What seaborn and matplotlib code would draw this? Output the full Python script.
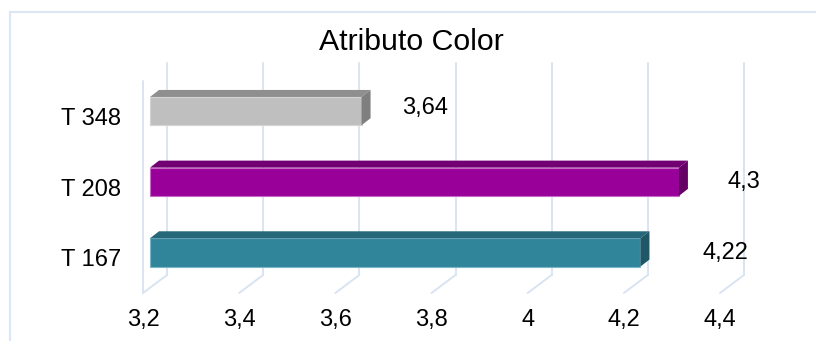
import numpy as np
import pandas as pd
import matplotlib
matplotlib.use('Agg')
import matplotlib.pyplot as plt
import seaborn as sns
from matplotlib.transforms import ScaledTranslation, IdentityTransform
from matplotlib.patches import Polygon, Rectangle
from matplotlib.lines import Line2D

# ---- data ----
categories = ['T 348', 'T 208', 'T 167']
values = [3.64, 4.3, 4.22]
value_labels = ['3,64', '4,3', '4,22']
tick_values = [3.2, 3.4, 3.6, 3.8, 4.0, 4.2, 4.4]
tick_labels = ['3,2', '3,4', '3,6', '3,8', '4', '4,2', '4,4']
title = 'Atributo Color'

# ---- style ----
front_colors = ['#BFBFBF', '#990099', '#31859B']
top_colors = ['#8F8F8F', '#730073', '#26687A']
side_colors = ['#7F7F7F', '#650065', '#1F5766']
edge_colors = ['#D4D4D4', '#C56AC5', '#7DB5C6']
grid_color = '#D9E4F3'
label_nudge_px = [71, 72, 92]
label_rise_px = [8, 5, 5]

sns.set_theme(style='white')
plt.rcParams['font.family'] = ['Liberation Sans', 'DejaVu Sans']

W, H = 816, 341
DPI = 100
fig = plt.figure(figsize=(W / DPI, H / DPI), dpi=DPI)
fig.patch.set_facecolor('white')

# front plane of the pseudo-3D box, in image pixels
L, R, T, B = 143, 720, 81, 293
ax = fig.add_axes([L / W, (H - B) / H, (R - L) / W, (B - T) / H])
ax.patch.set_visible(False)

df = pd.DataFrame({'cat': categories, 'val': values})
sns.barplot(data=df, x='val', y='cat', hue='cat', palette=front_colors,
            orient='h', width=0.4, saturation=1, legend=False, ax=ax)

ax.set_xlim(tick_values[0], tick_values[-1])
ax.set_ylim(len(categories) - 0.5, -0.5)
ax.set_xticks(tick_values)
ax.set_xticklabels(tick_labels)
ax.tick_params(axis='x', length=0, pad=11.5, labelsize=17, colors='black')
ax.tick_params(axis='y', length=0, pad=16, labelsize=17, colors='black')
ax.set_xlabel('')
ax.set_ylabel('')
for s in ax.spines.values():
    s.set_visible(False)

fig.canvas.draw()
ident = IdentityTransform()

# depth offsets (pixels, display coords y-up)
BOX_DX, BOX_DY = 24, 18
BAR_OFF_X, BAR_OFF_Y = 7, 5.25
BAR_DX, BAR_DY = 9, 7

# gridlines on back wall + floor diagonals + left wall edge
for i, v in enumerate(tick_values):
    xf, yb = ax.transData.transform((v, len(categories) - 0.5))
    _, yt = ax.transData.transform((v, -0.5))
    ax.add_line(Line2D([xf + BOX_DX, xf + BOX_DX], [yb + BOX_DY, yt + BOX_DY],
                       transform=ident, color=grid_color, lw=1.4, zorder=0.5, clip_on=False))
    ax.add_line(Line2D([xf, xf + BOX_DX], [yb, yb + BOX_DY],
                       transform=ident, color=grid_color, lw=1.4, zorder=0.5, clip_on=False))
    if i == 0:
        ax.add_line(Line2D([xf, xf], [yb, yt], transform=ident, color=grid_color,
                           lw=1.4, zorder=0.5, clip_on=False))

# bars: start at axis minimum, shift into the box, add top and side faces
shift = ScaledTranslation(BAR_OFF_X / DPI, BAR_OFF_Y / DPI, fig.dpi_scale_trans)
for i, (p, v) in enumerate(zip(ax.patches, values)):
    p.set_x(tick_values[0])
    p.set_width(v - tick_values[0])
    p.set_transform(ax.transData + shift)
    p.set_clip_on(False)
    p.set_edgecolor(edge_colors[i])
    p.set_linewidth(0.8)
    p.set_zorder(2)
    y0 = p.get_y()
    y1 = y0 + p.get_height()
    (x0d, ya), = ax.transData.transform([(tick_values[0], y0)])
    (x1d, yb_), = ax.transData.transform([(v, y1)])
    x0d += BAR_OFF_X; x1d += BAR_OFF_X
    ya += BAR_OFF_Y; yb_ += BAR_OFF_Y
    ytop, ybot = max(ya, yb_), min(ya, yb_)
    top = Polygon([(x0d, ytop), (x1d, ytop), (x1d + BAR_DX, ytop + BAR_DY), (x0d + BAR_DX, ytop + BAR_DY)],
                  closed=True, transform=ident, facecolor=top_colors[i], edgecolor='none',
                  zorder=2, clip_on=False)
    side = Polygon([(x1d, ytop), (x1d + BAR_DX, ytop + BAR_DY), (x1d + BAR_DX, ybot + BAR_DY), (x1d, ybot)],
                   closed=True, transform=ident, facecolor=side_colors[i], edgecolor='none',
                   zorder=2, clip_on=False)
    ax.add_patch(top)
    ax.add_patch(side)
    ax.annotate(value_labels[i], xy=(v, i), xytext=(label_nudge_px[i] * 0.72, label_rise_px[i] * 0.72),
                textcoords='offset points', ha='center', va='center', fontsize=17,
                color='black', annotation_clip=False)

fig.text(411.5 / W, 1 - 41.5 / H, title, ha='center', va='center', fontsize=21.8, color='black')

# chart border (partially visible)
fig.add_artist(Rectangle((10 / W, -0.2), 1.2, 1 - 12 / H + 0.2, transform=fig.transFigure,
                         facecolor='none', edgecolor='#DCE6F4', lw=1.6, zorder=-5))

fig.savefig('out.png', dpi=DPI)
